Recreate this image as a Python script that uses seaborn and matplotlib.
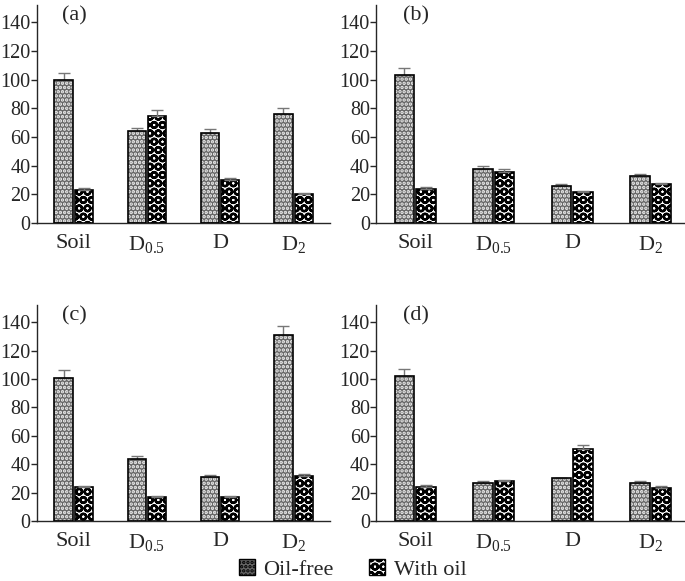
import numpy as np
import pandas as pd
import seaborn as sns
import matplotlib.pyplot as plt
from matplotlib.patches import Patch, Rectangle

categories = ['Soil', 'D$_{0.5}$', 'D', 'D$_2$']
series = ['Oil-free', 'With oil']
panels = ['(a)', '(b)', '(c)', '(d)']

# values: [oil-free, with oil] per category
a_free = [100, 64, 63, 76]
a_oil = [23, 75, 30, 20]
a_free_err = [5, 2.5, 2.5, 4.5]
a_oil_err = [1.5, 4, 1.5, 1]

b_free = [103, 38, 26, 33]
b_oil = [24, 36, 22, 27]
b_free_err = [5, 2, 1.5, 1.5]
b_oil_err = [1, 2, 0.7, 0.8]

c_free = [101, 44, 31, 131]
c_oil = [24, 17, 17, 32]
c_free_err = [5, 2, 1.5, 6.5]
c_oil_err = [1, 0.8, 0.8, 1.2]

d_free = [102, 27, 30, 27]
d_oil = [24, 28, 51, 23.5]
d_free_err = [5, 1.5, 0.5, 1.5]
d_oil_err = [1.2, 1, 2.5, 1.2]

free_vals = [a_free, b_free, c_free, d_free]
oil_vals = [a_oil, b_oil, c_oil, d_oil]
free_errs = [a_free_err, b_free_err, c_free_err, d_free_err]
oil_errs = [a_oil_err, b_oil_err, c_oil_err, d_oil_err]

sns.set_style('ticks')
plt.rcParams['font.family'] = ['Liberation Serif', 'DejaVu Serif']
plt.rcParams['mathtext.fontset'] = 'custom'
plt.rcParams['mathtext.rm'] = 'Liberation Serif'
plt.rcParams['mathtext.default'] = 'rm'
plt.rcParams['hatch.linewidth'] = 1.7

FREE_FACE = '#666666'
FREE_HATCH = '....'
OIL_HATCH = 'OO'


def style_free(p, ax):
    p.set_facecolor(FREE_FACE)
    p.set_hatch(FREE_HATCH)
    p.set_edgecolor('#f0f0f0')
    p.set_linewidth(0)
    ax.add_patch(Rectangle(p.get_xy(), p.get_width(), p.get_height(),
                           fill=False, edgecolor='black', linewidth=1.2, zorder=3))


def style_oil(p):
    p.set_facecolor('white')
    p.set_hatch(OIL_HATCH)
    p.set_edgecolor('black')
    p.set_linewidth(1.2)


fig = plt.figure(figsize=(6.85, 5.81), dpi=100)
boxes = [[0.054, 0.616, 0.428, 0.375],
         [0.549, 0.616, 0.458, 0.375],
         [0.054, 0.103, 0.428, 0.372],
         [0.549, 0.103, 0.458, 0.372]]

for i, box in enumerate(boxes):
    ax = fig.add_axes(box)
    df = pd.DataFrame({
        'cat': categories * 2,
        'group': [series[0]] * 4 + [series[1]] * 4,
        'val': free_vals[i] + oil_vals[i],
    })
    sns.barplot(data=df, x='cat', y='val', hue='group', order=categories,
                hue_order=series, width=0.55, gap=0.1, ax=ax, legend=False,
                errorbar=None)
    errs = [free_errs[i], oil_errs[i]]
    bar_conts = list(ax.containers)
    for k, cont in enumerate(bar_conts):
        xs, tops = [], []
        for p in cont.patches:
            if k == 0:
                style_free(p, ax)
            else:
                style_oil(p)
            xs.append(p.get_x() + p.get_width() / 2)
            tops.append(p.get_height())
        e = np.array(errs[k])
        ax.errorbar(xs, tops, yerr=[np.zeros_like(e), e], fmt='none',
                    ecolor='#777777', elinewidth=1, capsize=4, capthick=1,
                    zorder=2)
    ax.set_xlim(-0.5, 3.5)
    ax.set_ylim(0, 152)
    ax.set_yticks(range(0, 141, 20))
    ax.set_xlabel('')
    ax.set_ylabel('')
    ax.tick_params(axis='y', labelsize=14.5, length=4, width=1, pad=0.5)
    ax.tick_params(axis='x', labelsize=16, length=0, pad=8)
    for s in ['top', 'right']:
        ax.spines[s].set_visible(False)
    ax.spines['left'].set_linewidth(1)
    ax.spines['bottom'].set_linewidth(1)
    ax.text(0.085, 0.95, panels[i], transform=ax.transAxes, fontsize=16,
            va='center', ha='left')

handles = [Patch(facecolor=FREE_FACE, hatch=FREE_HATCH, edgecolor='black'),
           Patch(facecolor='white', hatch=OIL_HATCH, edgecolor='black')]
fig.legend(handles, series, loc='center', bbox_to_anchor=(0.515, 0.02),
           ncol=2, frameon=False, fontsize=16, handlelength=0.7,
           handleheight=0.7, handletextpad=0.4, columnspacing=1.6)

fig.savefig('out.png', dpi=100)
